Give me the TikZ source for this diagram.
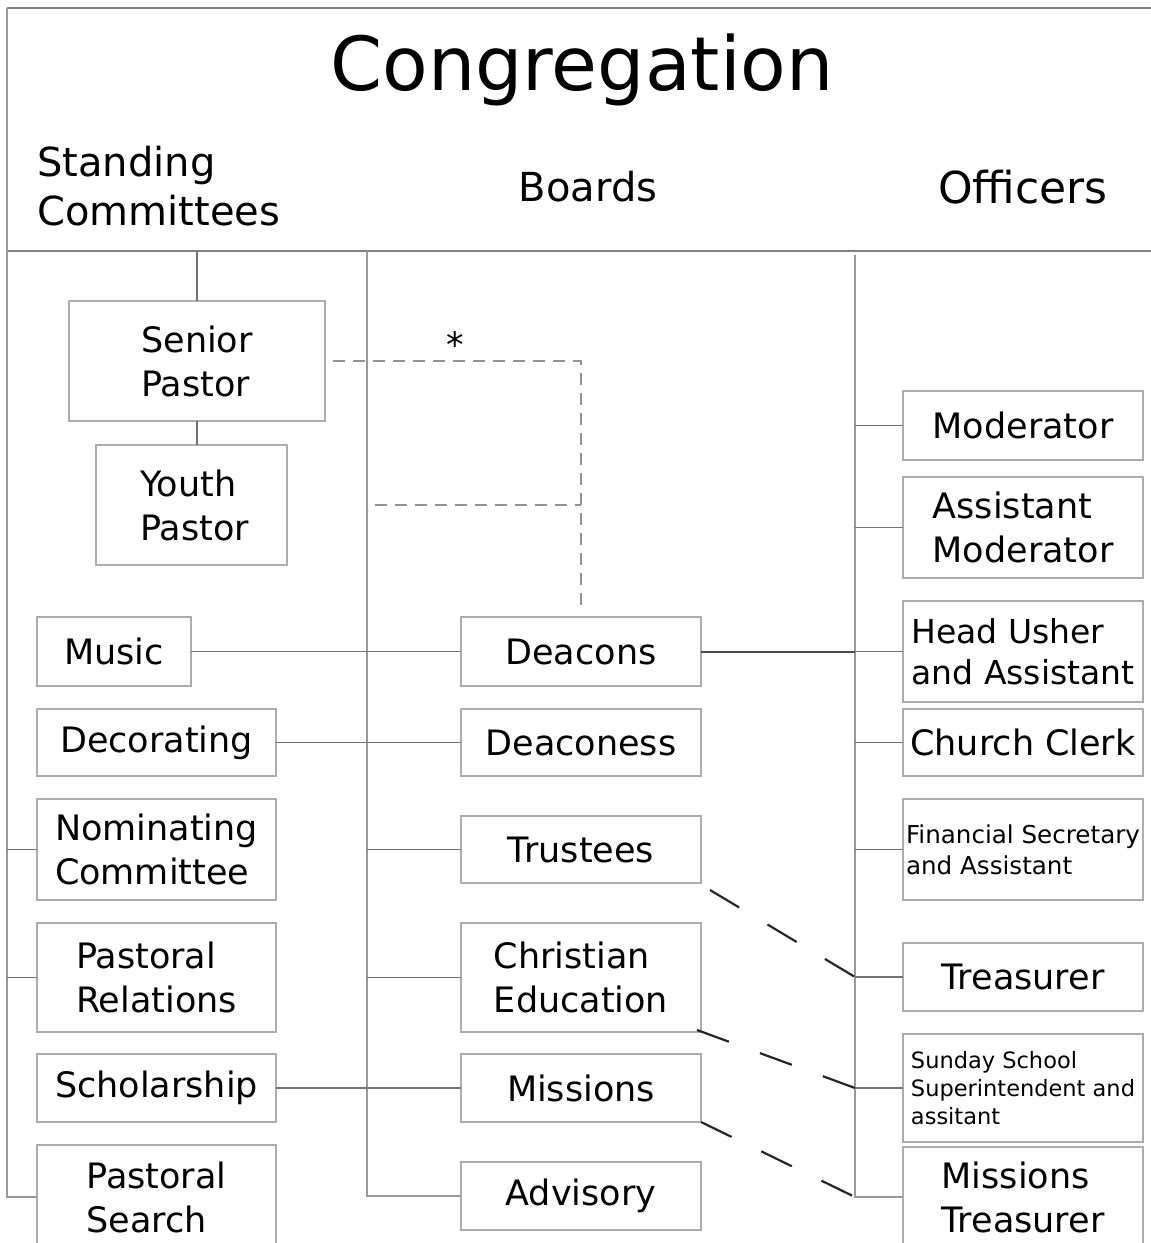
\documentclass[tikz,border=0pt]{standalone}
\usepackage{fontspec}
\setmainfont{DejaVu Sans}
\usetikzlibrary{positioning, calc}

\definecolor{boxgray}{gray}{0.68}
\definecolor{railgray}{gray}{0.6}
\definecolor{framegray}{gray}{0.5}
\definecolor{linkgray}{gray}{0.45}

\newcommand\titlefont{\fontsize{74.6}{80}\selectfont}
\newcommand\headfont{\fontsize{40}{49}\selectfont}
\newcommand\offfont{\fontsize{44}{50}\selectfont}
\newcommand\boxfont{\fontsize{35}{44}\selectfont}
\newcommand\usherfont{\fontsize{33}{41}\selectfont}
\newcommand\finfont{\fontsize{24.6}{31}\selectfont}
\newcommand\sundayfont{\fontsize{22.5}{28}\selectfont}

\begin{document}
\begin{tikzpicture}[x=1pt, y=-1pt,
    box/.style={rectangle, draw=boxgray, line width=1.3pt, inner sep=0pt, outer sep=0pt, align=left, font=\boxfont, anchor=north west},
    frame/.style={draw=framegray, line width=1.5pt},
    rail/.style={draw=railgray, line width=1.5pt},
    link/.style={draw=linkgray, line width=1.1pt},
    thicklink/.style={draw=black!70, line width=2pt},
    pastdash/.style={draw=gray!85, line width=1.2pt, dash pattern=on 12pt off 8pt},
    tiedash/.style={draw=black!85, line width=2.2pt, dash pattern=on 34pt off 33pt}
]
\useasboundingbox (0,0) rectangle (1151,1243);

% header
\coordinate (hdrtl) at (7,8);
\coordinate (hdrbl) at (7,251);
\coordinate (brail) at (367,251);
\coordinate (orail) at (855,255);
\draw[frame] (hdrtl) -- (1151,8);
\draw[frame] (hdrbl) -- (1151,251);
\node[font=\titlefont, anchor=base] (title) at (582,90) {Congregation};
\node[font=\headfont, align=left, anchor=west, inner sep=0pt] (stand) at (37,186) {Standing\\Committees};
\node[font=\headfont, inner sep=0pt] (boards) at (588,187) {Boards};
\node[font=\offfont, inner sep=0pt] (officers) at (1023,187) {Officers};

% pastors
\node[box, minimum width=256pt, minimum height=120pt] (senior) at (69,301) {Senior\\Pastor};
\node[box, minimum width=191pt, minimum height=120pt] (youth) at (96,445) {\hspace*{6pt}Youth\\\hspace*{6pt}Pastor};
\node[font=\boxfont, anchor=base] (star) at (455,357) {*};

% standing committees
\node[box, minimum width=154pt, minimum height=69pt] (music) at (37,617) {Music};
\node[box, below=23pt of music.south west, anchor=north west, minimum width=239pt, minimum height=67pt] (decor) {Decorating};
\node[box, below=23pt of decor.south west, anchor=north west, minimum width=239pt, minimum height=101pt] (nom) {Nominating\\Committee};
\node[box, below=23pt of nom.south west, anchor=north west, minimum width=239pt, minimum height=109pt] (pastrel) {Pastoral\\Relations};
\node[box, below=22pt of pastrel.south west, anchor=north west, minimum width=239pt, minimum height=68pt] (schol) {Scholarship};
\node[box, below=23pt of schol.south west, anchor=north west, minimum width=239pt, minimum height=104pt] (search) {Pastoral\\Search};

% boards
\node[box, minimum width=240pt, minimum height=69pt] (deac) at (461,617) {Deacons};
\node[box, below=23pt of deac.south west, anchor=north west, minimum width=240pt, minimum height=67pt] (deacs) {Deaconess};
\node[box, below=40pt of deacs.south west, anchor=north west, minimum width=240pt, minimum height=67pt] (trus) {Trustees};
\node[box, below=40pt of trus.south west, anchor=north west, minimum width=240pt, minimum height=109pt] (chred) {Christian\\Education};
\node[box, below=22pt of chred.south west, anchor=north west, minimum width=240pt, minimum height=68pt] (miss) {Missions};
\node[box, below=40pt of miss.south west, anchor=north west, minimum width=240pt, minimum height=68pt] (adv) {Advisory};

% officers
\node[box, minimum width=240pt, minimum height=69pt] (moder) at (903,391) {Moderator};
\node[box, below=17pt of moder.south west, anchor=north west, minimum width=240pt, minimum height=101pt] (asmod) {Assistant\\Moderator};
\node[box, below=23pt of asmod.south west, anchor=north west, minimum width=240pt, minimum height=101pt, font=\usherfont] (usher) {Head Usher\\and Assistant};
\node[box, below=7pt of usher.south west, anchor=north west, minimum width=240pt, minimum height=67pt] (clerk) {Church Clerk};
\node[box, below=23pt of clerk.south west, anchor=north west, minimum width=240pt, minimum height=101pt, font=\finfont] (finsec) {Financial Secretary\\and Assistant};
\node[box, below=43pt of finsec.south west, anchor=north west, minimum width=240pt, minimum height=68pt] (treas) {Treasurer};
\node[box, below=23pt of treas.south west, anchor=north west, minimum width=240pt, minimum height=108pt, font=\sundayfont] (sunday) {Sunday School\\Superintendent and\\assitant};
\node[box, below=5pt of sunday.south west, anchor=north west, minimum width=240pt, minimum height=100pt] (mtreas) {Missions\\Treasurer};

% rails
\draw[rail] (hdrtl) |- (search.west);
\foreach \n in {nom, pastrel}
  \draw[link] (\n.west) -- (\n.west -| hdrtl);
\draw[rail] (brail) |- (adv.west);
\foreach \n in {trus, chred}
  \draw[link] (\n.west) -- (\n.west -| brail);
\draw[rail] (orail) |- (mtreas.west);
\foreach \n in {moder, asmod, clerk, finsec, treas, sunday}
  \draw[link] (\n.west) -- (\n.west -| orail);

% cross links
\draw[link] (music) -- (deac);
\draw[link] (decor) -- (deacs);
\draw[link] (schol) -- (miss);
\draw[thicklink] (deac.east) -- (deac.east -| orail);
\draw[link] (deac.east -| orail) -- (usher.west);
\draw[link] (senior.north) -- (senior.north |- hdrbl);
\draw[link] (senior.south) -- (senior.south |- youth.north);

% dashed ties
\draw[pastdash] ([xshift=8pt]senior.east) -| ([yshift=5pt]deac.north);
\draw[pastdash] ($(youth.east -| brail)+(8,0)$) -- (youth.east -| deac.north);
\draw[tiedash] ([shift={(9pt,-7pt)}]trus.south east) -- (treas.west -| orail);
\draw[tiedash] ([shift={(-4pt,2pt)}]chred.south east) -- (sunday.west -| orail);
\draw[tiedash] (miss.south east) -- (mtreas.west -| orail);
\end{tikzpicture}
\end{document}
